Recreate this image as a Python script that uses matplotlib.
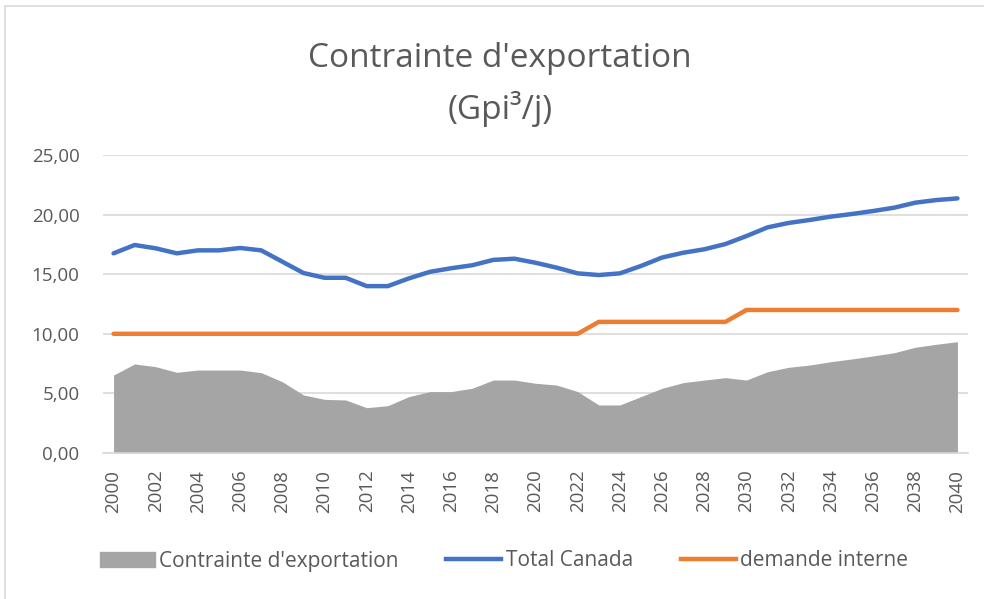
import matplotlib
matplotlib.use('Agg')
import matplotlib.pyplot as plt
from matplotlib.patches import Patch, Rectangle
from matplotlib.lines import Line2D
from matplotlib.ticker import FuncFormatter

years = list(range(2000, 2041))

total_canada = [16.75, 17.45, 17.17, 16.75, 17.0, 17.0, 17.2, 17.0, 16.05, 15.1,
                14.7, 14.7, 14.0, 14.0, 14.65, 15.2, 15.5, 15.75, 16.2, 16.3,
                15.96, 15.55, 15.07, 14.93, 15.07, 15.69, 16.4, 16.8, 17.09, 17.53,
                18.2, 18.93, 19.3, 19.55, 19.83, 20.05, 20.3, 20.58, 21.0, 21.22,
                21.36]

demande_interne = [10.0] * 23 + [11.0] * 7 + [12.0] * 11

contrainte = [6.54, 7.47, 7.24, 6.77, 6.96, 6.96, 6.96, 6.74, 5.98, 4.87,
              4.5, 4.45, 3.8, 3.97, 4.73, 5.15, 5.15, 5.43, 6.12, 6.12,
              5.85, 5.7, 5.15, 4.03, 4.03, 4.73, 5.43, 5.9, 6.12, 6.32,
              6.12, 6.82, 7.19, 7.38, 7.66, 7.89, 8.14, 8.41, 8.87, 9.12,
              9.34]

plt.rcParams['font.family'] = ['Open Sans', 'DejaVu Sans']
txt = '#595959'
grid = '#d9d9d9'

fig = plt.figure(figsize=(9.84, 5.99), dpi=100)
ax = fig.add_axes([103 / 984, 1 - 453 / 599, 865 / 984, 298 / 599])

# outer chart border
fig.patches.append(Rectangle((5 / 984, -0.01), 1.0, 1 - 6 / 599 + 0.01,
                             transform=fig.transFigure, fill=False,
                             edgecolor='#d9d9d9', linewidth=1.2))

ax.fill_between(years, contrainte, 0, color='#a5a5a5', linewidth=0, zorder=2)
ax.plot(years, total_canada, color='#4472c4', linewidth=3.2, zorder=3,
        solid_capstyle='round')
ax.plot(years, demande_interne, color='#ed7d31', linewidth=3.2, zorder=3,
        solid_capstyle='round')

ax.set_xlim(1999.5, 2040.5)
ax.set_ylim(0, 25)
ax.set_yticks([0, 5, 10, 15, 20, 25])
ax.yaxis.set_major_formatter(FuncFormatter(lambda v, p: f'{v:.2f}'.replace('.', ',')))
ax.set_xticks(years[::2])
ax.set_xticklabels([str(y) for y in years[::2]], rotation=90)
ax.grid(axis='y', color=grid, linewidth=1.2, zorder=0)
for s in ['top', 'right', 'left']:
    ax.spines[s].set_visible(False)
ax.spines['bottom'].set_color(grid)
ax.spines['bottom'].set_linewidth(1.2)
ax.tick_params(axis='both', length=0, colors=txt, labelsize=13.5)
ax.tick_params(axis='x', pad=12)
ax.tick_params(axis='y', pad=17)

# title, two lines placed on their baselines
fig.text(0.508, 1 - 67 / 599, "Contrainte d'exportation", ha='center',
         va='baseline', fontsize=24, color=txt)
fig.text(0.508, 1 - 119 / 599, "(Gpi³/j)", ha='center',
         va='baseline', fontsize=24, color=txt)

handles = [Patch(color='#a5a5a5'),
           Line2D([], [], color='#4472c4', linewidth=3.2),
           Line2D([], [], color='#ed7d31', linewidth=3.2)]
labels = ["Contrainte d'exportation", 'Total Canada', 'demande interne']
leg = fig.legend(handles, labels, loc='center', bbox_to_anchor=(0.512, 1 - 561 / 599),
                 ncol=3, frameon=False, fontsize=15, handlelength=2.64,
                 handleheight=0.75, handletextpad=0.2, columnspacing=2.3)
for t in leg.get_texts():
    t.set_color(txt)

fig.savefig('out.png', dpi=100)
